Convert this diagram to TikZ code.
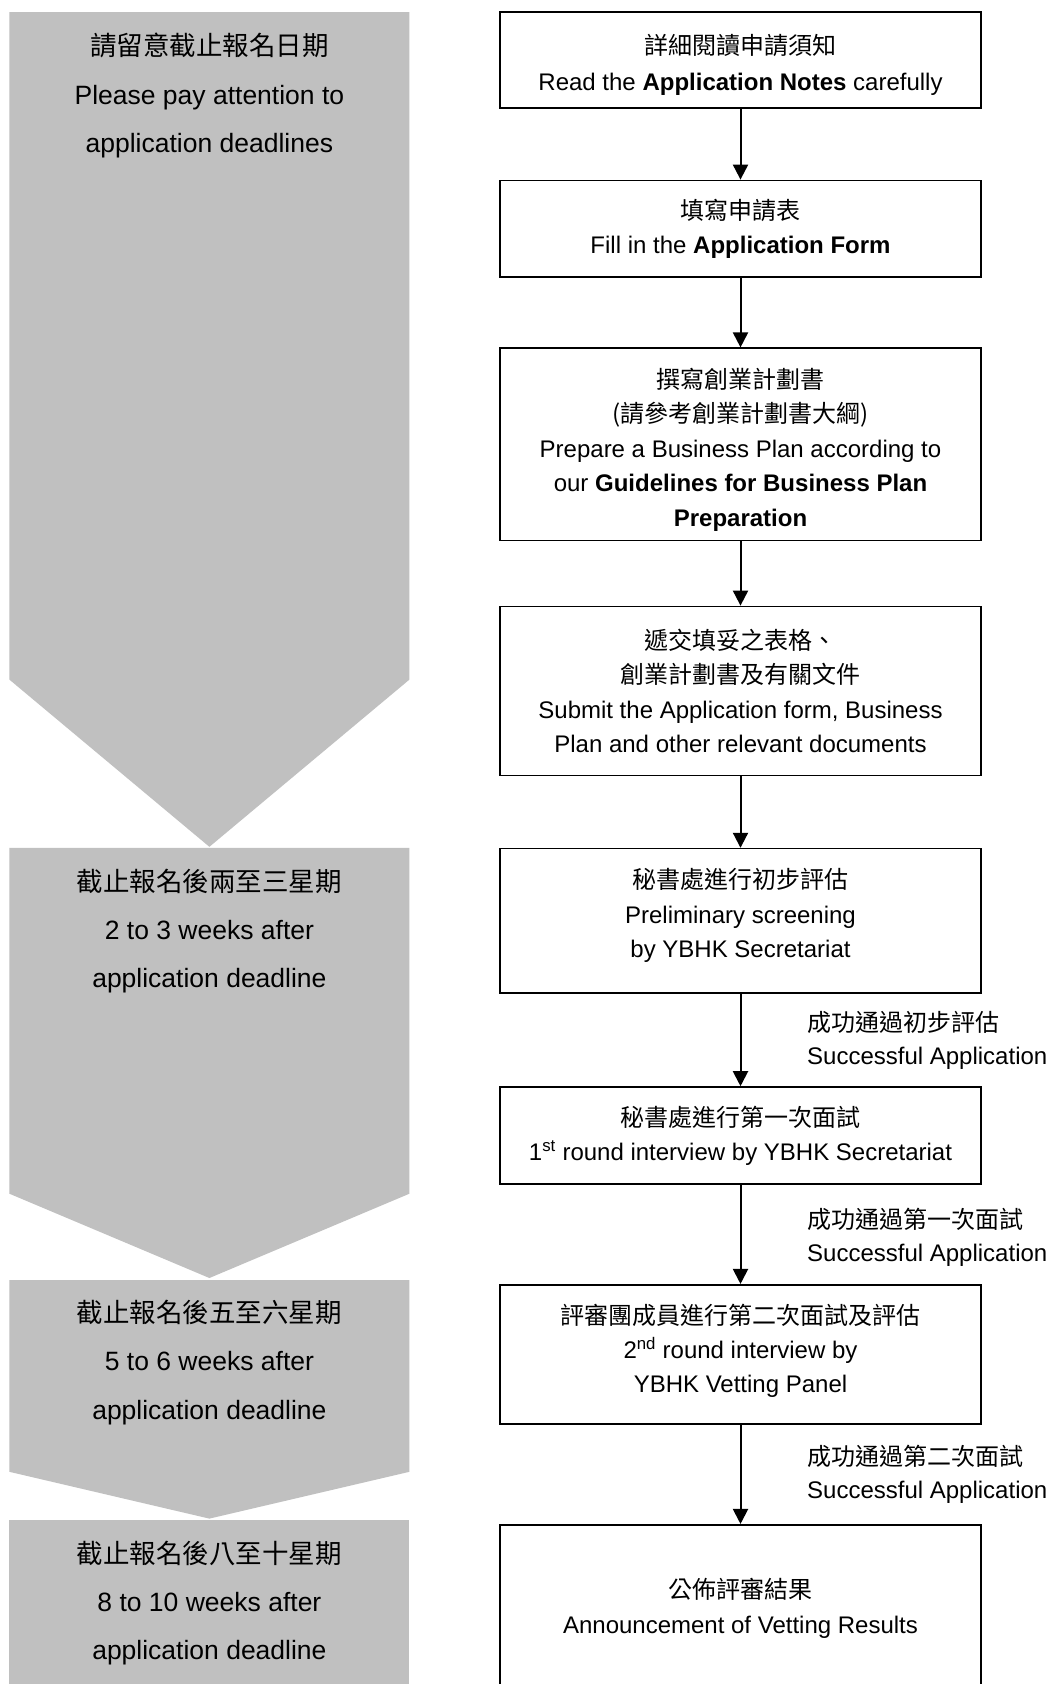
\documentclass[tikz,border=0pt]{standalone}
\usepackage{fontspec}
\setmainfont{Liberation Sans}
\newfontfamily\cjk{Noto Sans CJK TC}
\usetikzlibrary{arrows.meta}
\definecolor{bandgray}{RGB}{192,192,192}
\newcommand{\topstrut}[1]{\rule{0pt}{#1}}
\newcommand{\botstrut}[1]{\rule[-#1]{0pt}{#1}}
\begin{document}
\begin{tikzpicture}[x=1pt,y=-1pt,
  stepbox/.style={draw=black, line width=1.6pt, minimum width=481pt, inner sep=0pt, align=center, font=\fontsize{24}{34.4}\selectfont},
  bandshape/.style={fill=bandgray, draw=none},
  bandtext/.style={align=center, font=\fontsize{26.5}{48.2}\selectfont},
  lab/.style={align=left, anchor=west, inner sep=0pt, font=\fontsize{24}{32.7}\selectfont},
  arr/.style={line width=2pt, -{Triangle[length=15pt,width=15pt]}}]
\clip (0,0) rectangle (1049,1684);
\fill[white] (0,0) rectangle (1049,1684);

% grey time bands
\fill[bandshape] (9.4,12.1) -- (409.4,12.1) -- (409.4,679.6) -- (209.4,846.8) -- (9.4,679.6) -- cycle;
\fill[bandshape] (9.4,847.8) -- (409.4,847.8) -- (409.4,1193.7) -- (209.4,1278) -- (9.4,1193.7) -- cycle;
\fill[bandshape] (9.4,1280) -- (409.4,1280) -- (409.4,1471.8) -- (209.4,1518.6) -- (9.4,1471.8) -- cycle;
\fill[bandshape] (9.4,1519.6) rectangle (409.4,1700);

\node[bandtext] (t1) at (209.4,95.6) {{\cjk 請留意截止報名日期}\\Please pay attention to\\application deadlines};
\node[bandtext] (t2) at (209.4,931) {{\cjk 截止報名後兩至三星期}\\2 to 3 weeks after\\application deadline};
\node[bandtext] (t3) at (209.4,1362.5) {{\cjk 截止報名後五至六星期}\\5 to 6 weeks after\\application deadline};
\node[bandtext] (t4) at (209.4,1603) {{\cjk 截止報名後八至十星期}\\8 to 10 weeks after\\application deadline};

% steps
\node[stepbox, minimum height=96pt] (b1) at (740.5,60) {\topstrut{30pt}{\cjk 詳細閱讀申請須知}\\[2pt]Read the \textbf{Application Notes} carefully};
\node[stepbox, minimum height=96.4pt] (b2) at (740.5,228.6) {{\cjk 填寫申請表}\\Fill in the \textbf{Application Form}};
\node[stepbox, minimum height=192.2pt] (b3) at (740.5,444.3) {\topstrut{31pt}{\cjk 撰寫創業計劃書}\\{\cjk (請參考創業計劃書大綱)}\\Prepare a Business Plan according to\\our \textbf{Guidelines for Business Plan}\\\textbf{Preparation}};
\node[stepbox, minimum height=169pt] (b4) at (740.5,690.9) {{\cjk 遞交填妥之表格、}\\{\cjk 創業計劃書及有關文件}\\Submit the Application form, Business\\Plan and other relevant documents};
\node[stepbox, minimum height=144.6pt] (b5) at (740.5,920.9) {{\cjk 秘書處進行初步評估}\\Preliminary screening\\by YBHK Secretariat\botstrut{16pt}};
\node[stepbox, minimum height=97pt] (b6) at (740.5,1135.5) {{\cjk 秘書處進行第一次面試}\\1\textsuperscript{st} round interview by YBHK Secretariat};
\node[stepbox, minimum height=139.3pt] (b7) at (740.5,1354.4) {{\cjk 評審團成員進行第二次面試及評估}\\2\textsuperscript{nd} round interview by\\YBHK Vetting Panel\botstrut{12pt}};
\node[stepbox, minimum height=167.3pt] (b8) at (740.5,1608.4) {{\cjk 公佈評審結果}\\Announcement of Vetting Results};

% connectors
\draw[arr] (b1) -- (b2);
\draw[arr] (b2) -- (b3);
\draw[arr] (b3) -- (b4);
\draw[arr] (b4) -- (b5);
\draw[arr] (b5) -- (b6);
\draw[arr] (b6) -- (b7);
\draw[arr] (b7) -- (b8);

% arrow labels
\node[lab] (l1) at (807,1040.6) {{\cjk 成功通過初步評估}\\Successful Application};
\node[lab] (l2) at (807,1237.4) {{\cjk 成功通過第一次面試}\\Successful Application};
\node[lab] (l3) at (807,1474.3) {{\cjk 成功通過第二次面試}\\Successful Application};
\end{tikzpicture}
\end{document}
